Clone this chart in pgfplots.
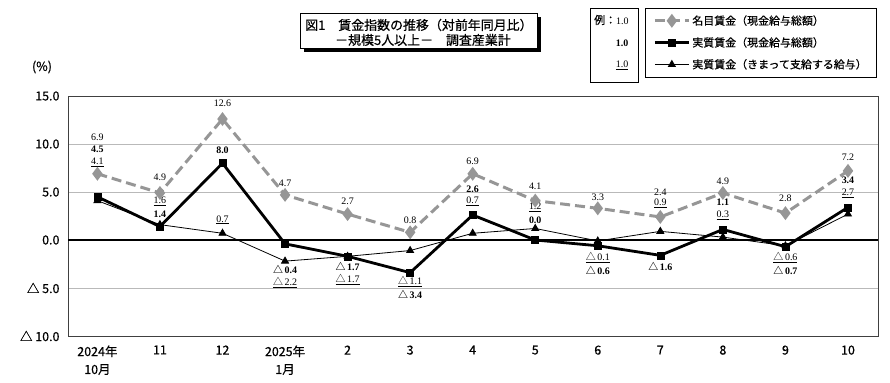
\documentclass[border=0pt]{standalone}
\usepackage{fontspec}
\usepackage{pgfplots}
\pgfplotsset{compat=1.18}
\setmainfont{Noto Sans CJK JP}[FakeBold=0.6]
\newfontfamily\cjk{Noto Sans CJK JP}
\newfontfamily\lbl{Liberation Serif}
\definecolor{nomgray}{RGB}{150,150,150}
\newcommand{\tri}{{\cjk △}\,}
\newcommand{\lb}[3]{\node[font=\lbl\fontsize{10}{12}\selectfont, inner sep=1bp] at (axis cs:#1,#2) {#3};}
\newcommand{\lbb}[3]{\node[font=\lbl\bfseries\fontsize{10}{12}\selectfont, inner sep=1bp] at (axis cs:#1,#2) {#3};}
\newcommand{\lbu}[3]{\node[font=\lbl\fontsize{10}{12}\selectfont, inner sep=1bp] at (axis cs:#1,#2) {\underline{#3}};}
\begin{document}
\begin{tikzpicture}
\path (0bp,0bp) rectangle (890bp,383bp);
% title box with shadow
\fill[black] (304bp,331bp) rectangle (541bp,366bp);
\draw[fill=white, line width=0.8bp] (300bp,335bp) rectangle (537bp,370bp);
\node[anchor=west, inner sep=0pt, font=\fontsize{13}{15}\selectfont] at (305bp,358bp) {図1　賃金指数の推移（対前年同月比）};
\node[anchor=west, inner sep=0pt, font=\fontsize{13}{15}\selectfont] at (335bp,343bp) {－規模5人以上－　調査産業計};
% example box
\draw[line width=0.8bp] (590bp,301bp) rectangle (638bp,375bp);
\node[anchor=west, inner sep=0pt, font=\fontsize{11}{13}\selectfont] at (594bp,363bp) {例：{\lbl\fontsize{10}{12}\selectfont 1.0}};
\node[inner sep=0pt, font=\lbl\bfseries\fontsize{10}{12}\selectfont] at (622bp,340bp) {1.0};
\node[inner sep=0pt, font=\lbl\fontsize{10}{12}\selectfont] at (622bp,318bp) {\underline{1.0}};
% unit
\node[font=\fontsize{12.5}{14}\selectfont] at (42bp,316bp) {(\%)};
\begin{axis}[
  at={(68bp,47bp)}, anchor=south west,
  width=810bp, height=240bp, scale only axis,
  xmin=-0.47, xmax=12.48, ymin=-10, ymax=15,
  xtick={0,1,2,3,4,5,6,7,8,9,10,11,12},
  xticklabels={{2024年\\10月},11,12,{2025年\\1月},2,3,4,5,6,7,8,9,10},
  xticklabel style={align=center, font=\fontsize{12.5}{18}\selectfont, yshift=-6bp, anchor=north},
  ytick={-10,-5,0,5,10,15},
  yticklabels={△ 10.0,△ 5.0,0.0,5.0,10.0,15.0},
  yticklabel style={font=\fontsize{12.5}{14}\selectfont, xshift=-5bp},
  major tick length=0,
  ymajorgrids, grid style={gray!55, line width=0.8bp},
  axis line style={black!75, line width=0.9bp},
  clip=false,
  legend cell align=left,
  legend image code/.code={\draw[mark repeat=2,mark phase=2,#1] plot coordinates {(0bp,0bp) (17bp,0bp) (34bp,0bp)};},
  legend style={at={(0.7123,1.3667)}, anchor=north west, draw=black, line width=0.8bp,
    font=\fontsize{11}{13}\selectfont, row sep=7bp, inner xsep=8bp, inner ysep=5bp},
]
\draw[black, line width=1.5bp] (axis cs:-0.47,0) -- (axis cs:12.48,0);
\addplot[nomgray, line width=3bp, dash pattern=on 10bp off 5bp, mark=diamond*, mark size=4.5bp, mark options={solid, fill=nomgray, draw=nomgray}]
  coordinates {(0,6.9) (1,4.9) (2,12.6) (3,4.7) (4,2.7) (5,0.8) (6,6.9) (7,4.1) (8,3.3) (9,2.4) (10,4.9) (11,2.8) (12,7.2)};
\addlegendentry{名目賃金（現金給与総額）}
\addplot[black, line width=2.8bp, mark=square*, mark size=3.5bp, mark options={solid, line width=0.5bp}]
  coordinates {(0,4.5) (1,1.4) (2,8.0) (3,-0.4) (4,-1.7) (5,-3.4) (6,2.6) (7,0.0) (8,-0.6) (9,-1.6) (10,1.1) (11,-0.7) (12,3.4)};
\addlegendentry{実質賃金（現金給与総額）}
\addplot[black, line width=0.8bp, mark=triangle*, mark size=4bp, mark options={solid}]
  coordinates {(0,4.1) (1,1.6) (2,0.7) (3,-2.2) (4,-1.7) (5,-1.1) (6,0.7) (7,1.2) (8,-0.1) (9,0.9) (10,0.3) (11,-0.6) (12,2.7)};
\addlegendentry{実質賃金（きまって支給する給与）}
% labels
\lb{0}{10.7}{6.9} \lbb{0}{9.4}{4.5} \lbu{0}{8.1}{4.1}
\lb{1}{6.5}{4.9} \lbu{1}{4.0}{1.6} \lbb{1}{2.7}{1.4}
\lb{2}{14.2}{12.6} \lbb{2}{9.4}{8.0} \lbu{2}{2.1}{0.7}
\lb{3}{5.9}{4.7} \lbb{3}{-3.1}{\tri 0.4} \lbu{3}{-4.4}{\tri 2.2}
\lb{4}{4.0}{2.7} \lbb{4}{-2.8}{\tri 1.7} \lbu{4}{-4.1}{\tri 1.7}
\lb{5}{2.1}{0.8} \lbu{5}{-4.3}{\tri 1.1} \lbb{5}{-5.7}{\tri 3.4}
\lb{6}{8.2}{6.9} \lbb{6}{5.3}{2.6} \lbu{6}{4.0}{0.7}
\lb{7}{5.6}{4.1} \lbu{7}{3.4}{1.2} \lbb{7}{2.1}{0.0}
\lb{8}{4.4}{3.3} \lbu{8}{-1.8}{\tri 0.1} \lbb{8}{-3.2}{\tri 0.6}
\lb{9}{5.0}{2.4} \lbu{9}{3.8}{0.9} \lbb{9}{-2.8}{\tri 1.6}
\lb{10}{6.1}{4.9} \lbb{10}{3.9}{1.1} \lbu{10}{2.6}{0.3}
\lb{11}{4.3}{2.8} \lbu{11}{-1.8}{\tri 0.6} \lbb{11}{-3.2}{\tri 0.7}
\lb{12}{8.6}{7.2} \lbb{12}{6.2}{3.4} \lbu{12}{4.9}{2.7}
\end{axis}
\end{tikzpicture}
\end{document}
